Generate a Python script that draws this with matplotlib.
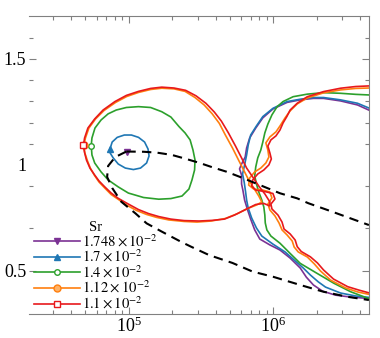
import numpy as np
import matplotlib
matplotlib.use("Agg")
import matplotlib.pyplot as plt
from matplotlib.ticker import FixedLocator, LogLocator, NullFormatter

plt.rcParams['font.family'] = ['Liberation Serif', 'DejaVu Serif']
plt.rcParams['mathtext.fontset'] = 'stix'

# curves are stored as log10(Re) and the y value
sr_labels = [r'$1.748\times10^{-2}$', r'$1.7\times10^{-2}$', r'$1.4\times10^{-2}$',
             r'$1.12\times10^{-2}$', r'$1.1\times10^{-2}$']
colors = ['#7b3294', '#1f77b4', '#2ca02c', '#ff7f0e', '#e8191c']

# purple: only the fixed point
purple_pt_lx = [4.986]
purple_pt_y = [1.062]

blue_loop_lx = [4.870, 4.886, 4.921, 4.970, 5.019, 5.068, 5.110, 5.134, 5.141, 5.124,
                5.082, 5.033, 4.977, 4.928, 4.893, 4.872, 4.870]
blue_loop_y = [1.074, 1.108, 1.130, 1.141, 1.141, 1.130, 1.108, 1.075, 1.042, 1.009,
               0.985, 0.978, 0.985, 1.004, 1.033, 1.056, 1.074]

green_loop_lx = [4.741, 4.746, 4.767, 4.809, 4.858, 4.914, 4.984, 5.068, 5.152, 5.229,
                 5.292, 5.348, 5.390, 5.425, 5.445, 5.459, 5.456, 5.438, 5.417, 5.369,
                 5.292, 5.208, 5.103, 4.998, 4.928, 4.858, 4.809, 4.765, 4.746, 4.741]
green_loop_y = [1.091, 1.127, 1.174, 1.212, 1.241, 1.259, 1.271, 1.275, 1.271, 1.251,
                1.226, 1.181, 1.151, 1.118, 1.070, 1.023, 0.976, 0.929, 0.886, 0.853,
                0.841, 0.838, 0.846, 0.867, 0.896, 0.929, 0.967, 1.009, 1.047, 1.091]

orange_loop_lx = [4.690, 4.701, 4.725, 4.771, 4.830, 4.910, 4.987, 5.068, 5.152, 5.229,
                  5.313, 5.390, 5.459, 5.522, 5.578, 5.627, 5.669, 5.718, 5.760, 5.795,
                  5.830, 5.865, 5.900, 5.921, 5.886, 5.823, 5.753, 5.669, 5.571, 5.473,
                  5.383, 5.278, 5.194, 5.124, 5.054, 4.991, 4.935, 4.879, 4.837, 4.795,
                  4.764, 4.736, 4.715, 4.697, 4.690]
orange_loop_y = [1.092, 1.127, 1.174, 1.217, 1.257, 1.295, 1.323, 1.342, 1.356, 1.362,
                 1.359, 1.347, 1.318, 1.283, 1.241, 1.196, 1.141, 1.080, 1.023, 0.976,
                 0.929, 0.891, 0.853, 0.825, 0.811, 0.794, 0.770, 0.747, 0.735, 0.730,
                 0.733, 0.740, 0.752, 0.766, 0.785, 0.808, 0.834, 0.860, 0.889, 0.919,
                 0.950, 0.983, 1.019, 1.056, 1.092]

red_loop_lx = [4.687, 4.695, 4.718, 4.765, 4.823, 4.905, 4.984, 5.068, 5.152, 5.229,
               5.313, 5.394, 5.466, 5.534, 5.592, 5.641, 5.690, 5.739, 5.781, 5.816,
               5.858, 5.900, 5.942, 5.977, 5.977, 5.935, 5.879, 5.802, 5.732, 5.662,
               5.578, 5.487, 5.383, 5.292, 5.208, 5.138, 5.068, 4.998, 4.928, 4.879,
               4.835, 4.795, 4.765, 4.732, 4.708, 4.694, 4.687]
red_loop_y = [1.092, 1.127, 1.174, 1.217, 1.259, 1.299, 1.328, 1.347, 1.361, 1.367,
              1.363, 1.352, 1.326, 1.291, 1.250, 1.207, 1.151, 1.089, 1.033, 0.985,
              0.943, 0.900, 0.863, 0.825, 0.806, 0.818, 0.813, 0.787, 0.763, 0.744,
              0.738, 0.735, 0.737, 0.744, 0.756, 0.770, 0.789, 0.815, 0.842, 0.867,
              0.896, 0.924, 0.952, 0.985, 1.023, 1.061, 1.092]

# right-hand branches (upper right -> lower right)
purple_br_lx = [6.667, 6.583, 6.466, 6.348, 6.278, 6.187, 6.096, 5.998, 5.928, 5.879,
                5.837, 5.816, 5.806, 5.781, 5.767, 5.781, 5.781, 5.790, 5.802, 5.823,
                5.844, 5.872, 5.907, 5.977, 6.047, 6.117, 6.187, 6.229, 6.278, 6.341,
                6.431, 6.536, 6.667]
purple_br_y = [1.257, 1.283, 1.302, 1.314, 1.314, 1.307, 1.295, 1.264, 1.222, 1.174,
               1.127, 1.080, 1.037, 1.004, 0.981, 0.952, 0.910, 0.881, 0.834, 0.787,
               0.744, 0.693, 0.650, 0.622, 0.598, 0.560, 0.513, 0.470, 0.433, 0.404,
               0.385, 0.376, 0.369]

blue_br_lx = [6.667, 6.583, 6.466, 6.348, 6.278, 6.187, 6.096, 5.998, 5.928, 5.884,
              5.844, 5.827, 5.816, 5.802, 5.788, 5.799, 5.809, 5.816, 5.827, 5.851,
              5.884, 5.921, 5.998, 6.082, 6.145, 6.208, 6.257, 6.313, 6.362, 6.466,
              6.571, 6.667]
blue_br_y = [1.267, 1.291, 1.307, 1.318, 1.318, 1.310, 1.299, 1.267, 1.228, 1.184,
             1.141, 1.094, 1.047, 1.000, 0.957, 0.919, 0.872, 0.834, 0.796, 0.749,
             0.702, 0.664, 0.626, 0.589, 0.551, 0.513, 0.480, 0.447, 0.423, 0.395,
             0.381, 0.374]

green_br_lx = [6.667, 6.571, 6.466, 6.348, 6.236, 6.138, 6.068, 6.026, 5.991, 5.963,
               5.942, 5.928, 5.914, 5.893, 5.879, 5.872, 5.884, 5.900, 5.921, 5.935,
               5.942, 5.945, 5.956, 5.984, 6.047, 6.117, 6.187, 6.303, 6.420, 6.536,
               6.667]
green_br_y = [1.330, 1.333, 1.338, 1.341, 1.334, 1.322, 1.299, 1.274, 1.236, 1.193,
              1.151, 1.108, 1.070, 1.033, 0.990, 0.948, 0.910, 0.872, 0.834, 0.801,
              0.763, 0.726, 0.693, 0.664, 0.630, 0.582, 0.535, 0.488, 0.441, 0.401,
              0.367]

orange_br_lx = [6.667, 6.571, 6.466, 6.348, 6.236, 6.166, 6.117, 6.082, 6.047, 6.019,
                5.977, 5.949, 5.963, 5.970, 5.949, 5.914, 5.872, 5.837, 5.830, 5.865,
                5.928, 5.977, 5.991, 5.963, 5.977, 6.012, 6.040, 6.061, 6.096, 6.131,
                6.145, 6.173, 6.236, 6.285, 6.327, 6.397, 6.501, 6.585, 6.667]
orange_br_y = [1.363, 1.361, 1.354, 1.340, 1.316, 1.288, 1.255, 1.222, 1.184, 1.156,
               1.132, 1.104, 1.070, 1.037, 1.009, 0.985, 0.967, 0.938, 0.905, 0.886,
               0.881, 0.872, 0.844, 0.815, 0.787, 0.759, 0.726, 0.693, 0.669, 0.641,
               0.612, 0.589, 0.565, 0.532, 0.499, 0.456, 0.419, 0.400, 0.388]

red_br_lx = [6.667, 6.571, 6.466, 6.348, 6.236, 6.166, 6.117, 6.094, 6.068, 6.047,
             6.019, 5.984, 5.963, 5.977, 5.987, 5.970, 5.935, 5.893, 5.858, 5.851,
             5.879, 5.942, 5.998, 6.012, 5.984, 5.991, 6.033, 6.061, 6.075, 6.117,
             6.152, 6.166, 6.194, 6.257, 6.306, 6.348, 6.417, 6.515, 6.592, 6.667]
red_br_y = [1.373, 1.370, 1.362, 1.346, 1.322, 1.291, 1.259, 1.228, 1.198, 1.165,
            1.137, 1.118, 1.089, 1.056, 1.028, 1.000, 0.976, 0.957, 0.929, 0.900,
            0.881, 0.874, 0.865, 0.839, 0.815, 0.792, 0.763, 0.730, 0.697, 0.674,
            0.645, 0.614, 0.591, 0.566, 0.537, 0.504, 0.461, 0.425, 0.409, 0.395]

# dashed black curves
dash_up_lx = [4.984, 5.103, 5.194, 5.299, 5.383, 5.487, 5.578, 5.676, 5.767, 5.907,
              6.047, 6.166, 6.243, 6.396, 6.662]
dash_up_y = [1.063, 1.062, 1.058, 1.047, 1.031, 1.010, 0.989, 0.968, 0.944, 0.905,
             0.866, 0.842, 0.819, 0.782, 0.716]
dash_lo_lx = [4.984, 4.907, 4.858, 4.851, 4.886, 4.949, 5.047, 5.124, 5.229, 5.362,
              5.431, 5.557, 5.718, 5.858, 5.998, 6.187, 6.348, 6.516, 6.662]
dash_lo_y = [1.063, 1.037, 0.995, 0.943, 0.891, 0.826, 0.771, 0.724, 0.685, 0.637,
             0.614, 0.574, 0.537, 0.496, 0.472, 0.433, 0.401, 0.377, 0.362]

fig = plt.figure(figsize=(3.8, 3.38), dpi=100)
ax = fig.add_axes([0.0763, 0.071, 0.8937, 0.8817])

lw = 1.2
ms = 4
# purple
ax.plot(10**np.array(purple_br_lx), purple_br_y, color=colors[0], lw=lw)
ax.plot(10**np.array(purple_pt_lx), purple_pt_y, '-v', color=colors[0], lw=lw, ms=ms,
        label=sr_labels[0])
# blue
ax.plot(10**np.array(blue_br_lx), blue_br_y, color=colors[1], lw=lw)
ax.plot(10**np.array(blue_loop_lx), blue_loop_y, '-^', color=colors[1], lw=lw, ms=ms,
        markevery=[0], label=sr_labels[1])
# green
ax.plot(10**np.array(green_br_lx), green_br_y, color=colors[2], lw=lw)
ax.plot(10**np.array(green_loop_lx), green_loop_y, '-o', color=colors[2], lw=lw, ms=ms,
        mfc='white', markevery=[0], label=sr_labels[2])
# orange
ax.plot(10**np.array(orange_br_lx), orange_br_y, color=colors[3], lw=lw)
ax.plot(10**np.array(orange_loop_lx), orange_loop_y, '-o', color=colors[3], lw=lw, ms=5,
        mfc='#ffb266', markevery=[0], label=sr_labels[3])
# red
ax.plot(10**np.array(red_br_lx), red_br_y, color=colors[4], lw=lw)
ax.plot(10**np.array(red_loop_lx), red_loop_y, '-s', color=colors[4], lw=lw, ms=ms,
        mfc='white', markevery=[0], label=sr_labels[4])

ax.plot(10**np.array(dash_up_lx), dash_up_y, color='black', lw=1.5, dashes=(4.5, 3))
ax.plot(10**np.array(dash_lo_lx), dash_lo_y, color='black', lw=1.5, dashes=(4.5, 3))

ax.set_xscale('log')
ax.set_xlim(10**4.3105, 10**6.6598)
ax.set_ylim(0.296, 1.703)

ax.xaxis.set_major_locator(FixedLocator([1e5, 1e6]))
ax.xaxis.set_minor_locator(LogLocator(base=10, subs=np.arange(2, 10)))
ax.xaxis.set_minor_formatter(NullFormatter())
ax.yaxis.set_major_locator(FixedLocator([0.5, 1.0, 1.5]))
ax.yaxis.set_minor_locator(FixedLocator([0.7, 0.9, 1.1, 1.2, 1.3, 1.4, 1.6]))
ax.set_yticklabels(['0.5', '1', '1.5'])

ax.tick_params(which='both', direction='in', top=True, right=True,
               color='#808080', labelsize=13, width=0.8)
ax.tick_params(which='major', length=5, pad=2)
ax.tick_params(which='minor', length=3)
for s in ['top', 'bottom', 'right']:
    ax.spines[s].set_color('#808080')
    ax.spines[s].set_linewidth(0.8)
ax.spines['left'].set_visible(False)
t = ax.yaxis.get_major_ticks()[1]
t.tick1line.set_visible(False)
t.tick2line.set_visible(False)

leg = ax.legend(loc='lower left', bbox_to_anchor=(0.0103, 0.003), frameon=False,
                title='Sr', fontsize=10.5, title_fontsize=10.5, handlelength=3.15,
                handletextpad=0.14, labelspacing=-0.05, borderpad=0.1, borderaxespad=0.0)

fig.savefig('out.png', dpi=100)
